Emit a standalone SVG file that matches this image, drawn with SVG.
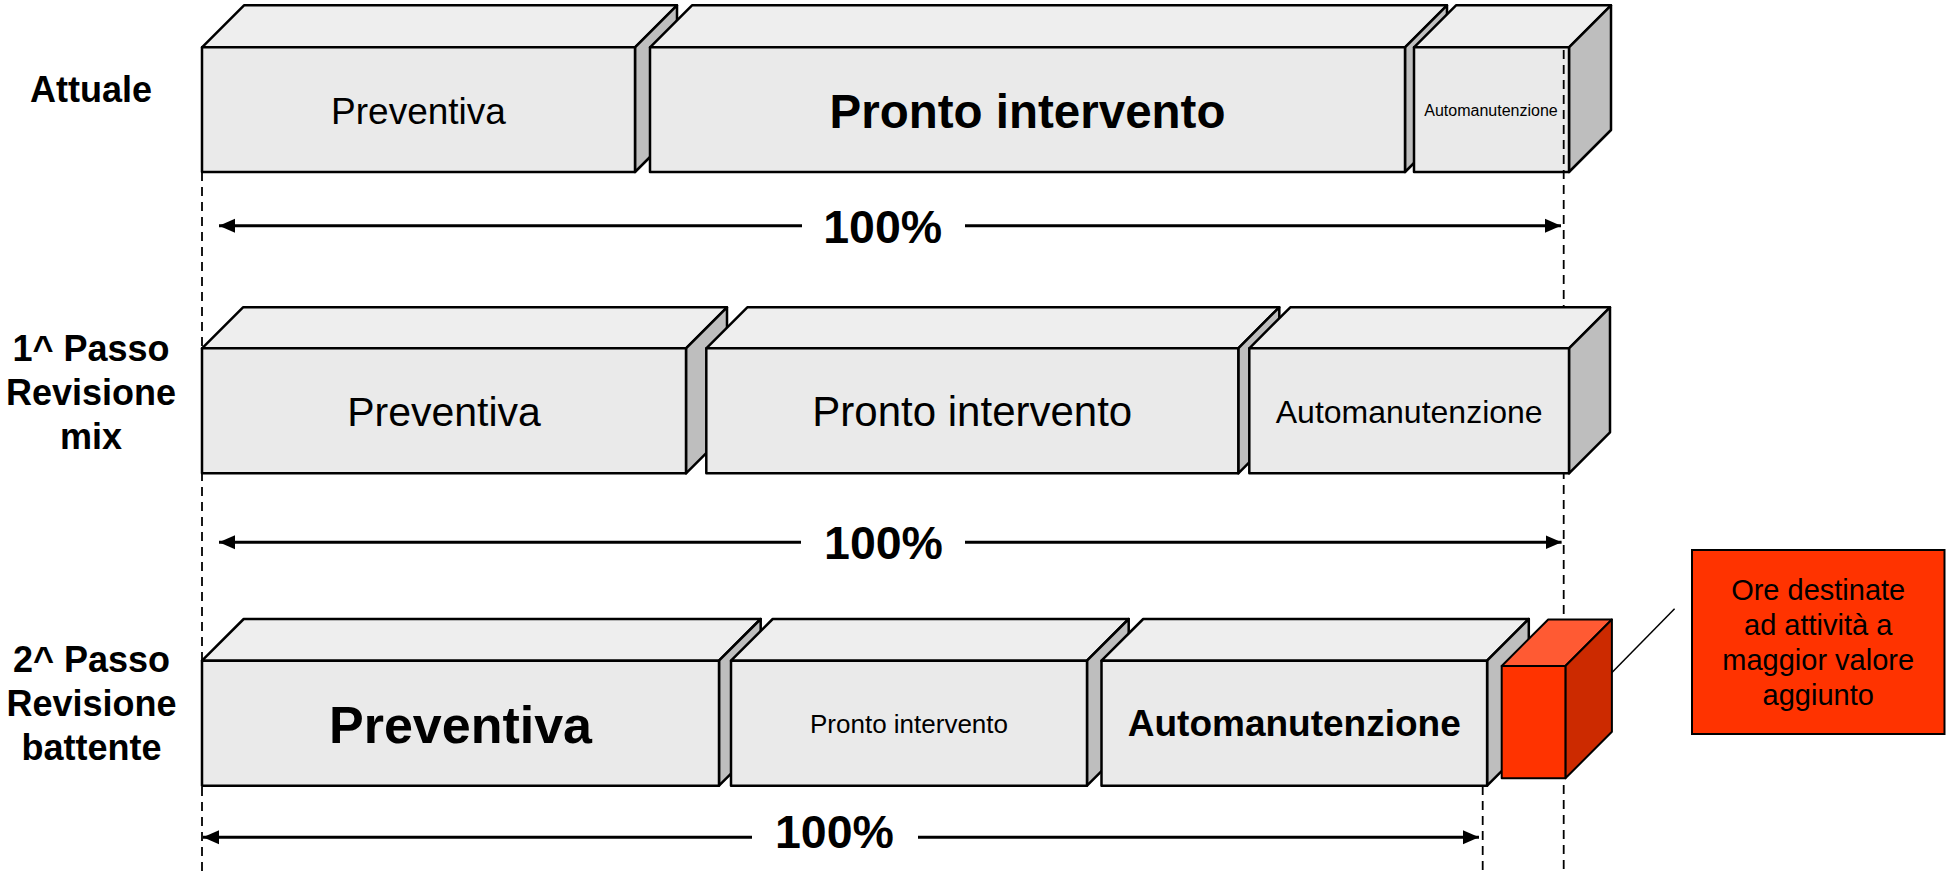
<svg xmlns="http://www.w3.org/2000/svg" width="1946" height="872" viewBox="0 0 1946 872">
<defs>
<style>
.f{fill:#EAEAEA;stroke:#000;stroke-width:2.5;stroke-linejoin:round}
.t{fill:#EEEEEE;stroke:#000;stroke-width:2.5;stroke-linejoin:round}
.s{fill:#BEBEBE;stroke:#000;stroke-width:2.5;stroke-linejoin:round}
.rf{fill:#FF3300;stroke:#000;stroke-width:2;stroke-linejoin:round}
.rt{fill:#FF5A33;stroke:#000;stroke-width:2;stroke-linejoin:round}
.rs{fill:#CC2A00;stroke:#000;stroke-width:2;stroke-linejoin:round}
text{font-family:"Liberation Sans",Arial,sans-serif;fill:#000;text-anchor:middle}
.b{font-weight:bold}
.lbl{font-weight:bold;font-size:36px}
.pct{font-weight:bold;font-size:46.5px}
.dash{stroke:#000;stroke-width:1.8;stroke-dasharray:9 6;fill:none}
.arr{stroke:#000;stroke-width:3;fill:none}
</style>
<marker id="ah" markerUnits="userSpaceOnUse" markerWidth="18" markerHeight="16" refX="16" refY="8" orient="auto-start-reverse" viewBox="0 0 18 16">
<path d="M0,1 L16,8 L0,15 Z" fill="#000"/>
</marker>
</defs>
<rect width="1946" height="872" fill="#fff"/>

<g id="row-labels">
<text class="lbl" x="91" y="102">Attuale</text>
<text class="lbl" x="91" y="361">1^ Passo</text>
<text class="lbl" x="91" y="405">Revisione</text>
<text class="lbl" x="91" y="449">mix</text>
<text class="lbl" x="91.5" y="672">2^ Passo</text>
<text class="lbl" x="91.5" y="716">Revisione</text>
<text class="lbl" x="91.5" y="760">battente</text>
</g>

<g id="r1-preventiva">
<polygon class="t" points="202,47.3 244,5.3 677,5.3 635,47.3"/>
<polygon class="s" points="635,47.3 677,5.3 677,130 635,172"/>
<rect class="f" x="202" y="47.3" width="433" height="124.7"/>
<text x="418.5" y="124" font-size="37">Preventiva</text>
</g>
<g id="r1-pronto">
<polygon class="t" points="650,47.3 692,5.3 1447,5.3 1405,47.3"/>
<polygon class="s" points="1405,47.3 1447,5.3 1447,130 1405,172"/>
<rect class="f" x="650" y="47.3" width="755" height="124.7"/>
<text class="b" x="1027.5" y="127.7" font-size="47.5">Pronto intervento</text>
</g>
<g id="r1-auto">
<polygon class="t" points="1414,47.3 1456,5.3 1611,5.3 1569,47.3"/>
<polygon class="s" points="1569,47.3 1611,5.3 1611,130 1569,172"/>
<rect class="f" x="1414" y="47.3" width="155" height="124.7"/>
<text x="1491" y="116" font-size="16">Automanutenzione</text>
</g>

<g id="connectors">
<line class="dash" x1="202" y1="172" x2="202" y2="872"/>
<line class="dash" x1="1563.7" y1="50" x2="1563.7" y2="872"/>
<line class="dash" x1="1482.7" y1="786" x2="1482.7" y2="872"/>
<line class="arr" x1="802" y1="225.7" x2="219" y2="225.7" marker-end="url(#ah)"/>
<line class="arr" x1="965" y1="225.7" x2="1561" y2="225.7" marker-end="url(#ah)"/>
<text class="pct" x="882.7" y="243.3">100%</text>
<line class="arr" x1="801" y1="542.3" x2="219" y2="542.3" marker-end="url(#ah)"/>
<line class="arr" x1="965" y1="542.3" x2="1561.6" y2="542.3" marker-end="url(#ah)"/>
<text class="pct" x="883.5" y="559.3">100%</text>
<line class="arr" x1="752" y1="837.3" x2="203" y2="837.3" marker-end="url(#ah)"/>
<line class="arr" x1="918" y1="837.3" x2="1479" y2="837.3" marker-end="url(#ah)"/>
<text class="pct" x="834.4" y="848.3">100%</text>
<line x1="1597" y1="687.7" x2="1674.6" y2="608.7" stroke="#000" stroke-width="1.5"/>
</g>

<g id="r2-preventiva">
<polygon class="t" points="202,348.3 243,307.3 727,307.3 686,348.3"/>
<polygon class="s" points="686,348.3 727,307.3 727,432.3 686,473.3"/>
<rect class="f" x="202" y="348.3" width="484" height="125"/>
<text x="444" y="426" font-size="41">Preventiva</text>
</g>
<g id="r2-pronto">
<polygon class="t" points="706.3,348.3 747.3,307.3 1279.3,307.3 1238.3,348.3"/>
<polygon class="s" points="1238.3,348.3 1279.3,307.3 1279.3,432.3 1238.3,473.3"/>
<rect class="f" x="706.3" y="348.3" width="532" height="125"/>
<text x="972.3" y="426" font-size="42">Pronto intervento</text>
</g>
<g id="r2-auto">
<polygon class="t" points="1249.3,348.3 1290.3,307.3 1610,307.3 1569,348.3"/>
<polygon class="s" points="1569,348.3 1610,307.3 1610,432.3 1569,473.3"/>
<rect class="f" x="1249.3" y="348.3" width="319.7" height="125"/>
<text x="1409.2" y="422.7" font-size="32">Automanutenzione</text>
</g>

<g id="r3-preventiva">
<polygon class="t" points="202,660.7 243.7,619 760.7,619 719,660.7"/>
<polygon class="s" points="719,660.7 760.7,619 760.7,744 719,785.7"/>
<rect class="f" x="202" y="660.7" width="517" height="125"/>
<text class="b" x="460.5" y="743.3" font-size="52">Preventiva</text>
</g>
<g id="r3-pronto">
<polygon class="t" points="731,660.7 772.7,619 1128.7,619 1087,660.7"/>
<polygon class="s" points="1087,660.7 1128.7,619 1128.7,744 1087,785.7"/>
<rect class="f" x="731" y="660.7" width="356" height="125"/>
<text x="909" y="732.7" font-size="26">Pronto intervento</text>
</g>
<g id="r3-auto">
<polygon class="t" points="1101.5,660.7 1143.2,619 1528.8,619 1487.1,660.7"/>
<polygon class="s" points="1487.1,660.7 1528.8,619 1528.8,744 1487.1,785.7"/>
<rect class="f" x="1101.5" y="660.7" width="385.6" height="125"/>
<text class="b" x="1294.3" y="735.7" font-size="37">Automanutenzione</text>
</g>
<g id="r3-extra">
<polygon class="rt" points="1501.7,666 1548.2,619.5 1611.9,619.5 1565.4,666"/>
<polygon class="rs" points="1565.4,666 1611.9,619.5 1611.9,731.8 1565.4,778.3"/>
<rect class="rf" x="1501.7" y="666" width="63.7" height="112.3"/>
</g>

<g id="callout">
<rect x="1692" y="550" width="252.5" height="184" fill="#FF3300" stroke="#000" stroke-width="2"/>
<text x="1818.2" y="600" font-size="29">Ore destinate</text>
<text x="1818.2" y="635" font-size="29">ad attività a</text>
<text x="1818.2" y="670" font-size="29">maggior valore</text>
<text x="1818.2" y="705" font-size="29">aggiunto</text>
</g>
</svg>
